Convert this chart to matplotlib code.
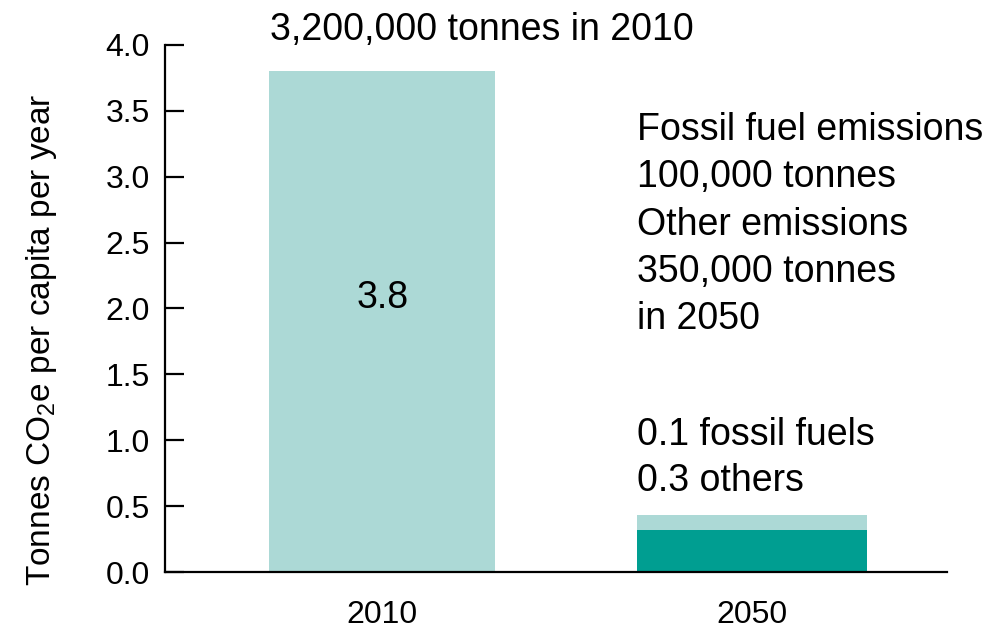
import matplotlib
matplotlib.use("Agg")
import matplotlib.pyplot as plt

plt.rcParams["font.family"] = ["Liberation Sans", "DejaVu Sans"]
plt.rcParams["mathtext.fontset"] = "custom"
plt.rcParams["mathtext.rm"] = "Liberation Sans"

# data
years = ["2010", "2050"]
others = [3.8, 0.32]      # dark part for 2050, whole bar for 2010
fossil = [0.0, 0.11]      # light part stacked on top in 2050
bar_label = "3.8"

light = "#acd9d6"
dark = "#009e91"

fig = plt.figure(figsize=(10.05, 6.29), dpi=100)
ax = fig.add_axes([0.1642, 0.0906, 0.778, 0.838])

x = range(len(years))
ax.bar(x[0], others[0], width=0.61, color=light)
ax.bar(x[1], others[1], width=0.62, color=dark)
ax.bar(x[1], fossil[1], bottom=others[1], width=0.62, color=light)

ax.set_xlim(-0.587, 1.527)
ax.set_ylim(0, 4.0)
ax.set_yticks([0.0, 0.5, 1.0, 1.5, 2.0, 2.5, 3.0, 3.5, 4.0])
ax.set_yticklabels([f"{v:.1f}" for v in ax.get_yticks()])
ax.set_xticks(list(x))
ax.set_xticklabels(years)

for s in ["top", "right"]:
    ax.spines[s].set_visible(False)
for s in ["left", "bottom"]:
    ax.spines[s].set_linewidth(1.6)

ax.tick_params(axis="y", direction="in", length=14, width=1.6, pad=11, labelsize=23)
ax.tick_params(axis="x", length=0, pad=20, labelsize=23)

ax.set_ylabel("Tonnes CO$_\\mathregular{2}$e per capita per year", fontsize=24)
ax.yaxis.set_label_coords(-0.135, 0.44)

# annotations
ax.text(0, 2.08, bar_label, ha="center", va="center", fontsize=27)
ax.text(-0.303, 4.11, "3,200,000 tonnes in 2010", ha="left", va="center",
        fontsize=27, clip_on=False)
ax.text(0.689, 3.49, "Fossil fuel emissions\n100,000 tonnes\nOther emissions\n350,000 tonnes\nin 2050",
        ha="left", va="top", fontsize=27, linespacing=1.4, clip_on=False)
ax.text(0.689, 1.18, "0.1 fossil fuels\n0.3 others", ha="left", va="top",
        fontsize=27, linespacing=1.36)

plt.savefig("out.png", dpi=100)
